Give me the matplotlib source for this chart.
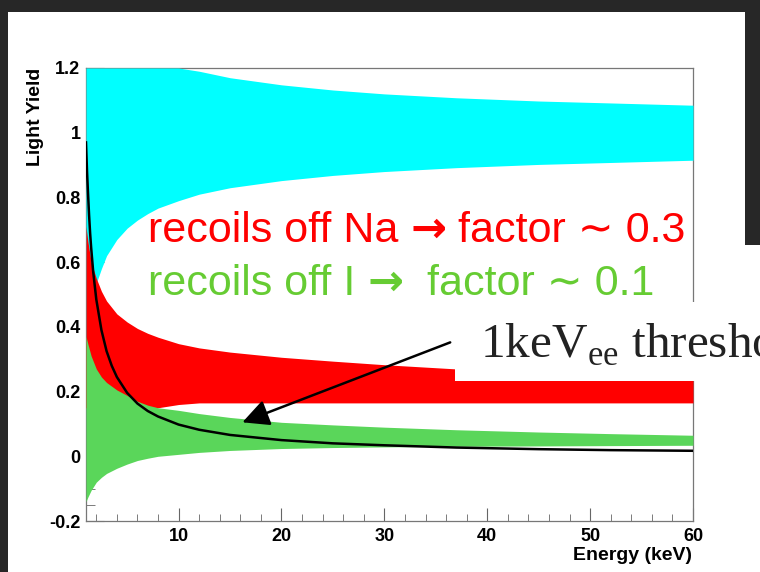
import matplotlib
matplotlib.use("Agg")
import matplotlib.pyplot as plt
from matplotlib.patches import Rectangle
from matplotlib.ticker import MultipleLocator

plt.rcParams["mathtext.fontset"] = "custom"
plt.rcParams["mathtext.rm"] = "Liberation Serif"

# energy grid (keV) shared by the three bands
energy = [1.0, 1.2, 1.5, 2.0, 2.5, 3.0, 4.0, 5.0, 6.0, 7.0, 8.0, 10.0,
          12.0, 15.0, 20.0, 25.0, 30.0, 37.0, 45.0, 52.0, 60.0]

# electron recoils (cyan band)
cyan_hi = [1.2, 1.2, 1.2, 1.2, 1.2, 1.2, 1.2, 1.2, 1.2, 1.2, 1.2, 1.2,
           1.19, 1.17, 1.148, 1.132, 1.12, 1.108, 1.098, 1.092, 1.085]
cyan_lo = [0.34, 0.40, 0.46, 0.535, 0.58, 0.62, 0.67, 0.705, 0.73, 0.75, 0.767, 0.79,
           0.81, 0.83, 0.852, 0.868, 0.88, 0.892, 0.902, 0.908, 0.915]

# Na recoils (red band)
red_hi = [0.71, 0.66, 0.60, 0.55, 0.51, 0.48, 0.44, 0.415, 0.395, 0.38, 0.368, 0.348,
          0.335, 0.322, 0.306, 0.294, 0.283, 0.27, 0.26, 0.252, 0.245]
red_lo = [0.15, 0.15, 0.15, 0.15, 0.15, 0.15, 0.15, 0.15, 0.15, 0.15, 0.15, 0.16,
          0.165, 0.165, 0.165, 0.165, 0.165, 0.165, 0.165, 0.165, 0.165]

# I recoils (green band)
green_hi = [0.37, 0.345, 0.31, 0.27, 0.245, 0.228, 0.205, 0.188, 0.17, 0.158, 0.15, 0.142,
            0.132, 0.12, 0.105, 0.097, 0.09, 0.082, 0.075, 0.07, 0.065]
green_lo = [-0.14, -0.125, -0.105, -0.08, -0.065, -0.053, -0.037, -0.024, -0.013, -0.006, 0.0, 0.006,
            0.012, 0.018, 0.024, 0.027, 0.029, 0.031, 0.032, 0.033, 0.034]

# 1 keVee threshold curve
line_energy = [1.0, 1.1, 1.2, 1.3, 1.4, 1.5, 1.7, 2.0, 2.5, 3.0, 3.5, 4.0, 5.0, 6.0, 7.0,
               8.0, 10.0, 12.0, 15.0, 20.0, 25.0, 30.0, 37.0, 45.0, 52.0, 60.0]
line_yield = [0.97, 0.88, 0.81, 0.745, 0.69, 0.645, 0.57, 0.485, 0.39, 0.325, 0.28, 0.245, 0.196,
              0.163, 0.14, 0.123, 0.098, 0.082, 0.066, 0.05, 0.04, 0.034, 0.027, 0.022, 0.019, 0.017]

x_ticks = [10, 20, 30, 40, 50, 60]
y_ticks = [-0.2, 0, 0.2, 0.4, 0.6, 0.8, 1.0, 1.2]
y_labels = ["-0.2", "0", "0.2", "0.4", "0.6", "0.8", "1", "1.2"]

na_text = ["recoils off Na ", "\u2192", " factor \u223c 0.3"]
i_text = ["recoils off I ", "\u2192", "  factor \u223c 0.1"]

W, H = 760, 572


def fx(x):
    return x / W


def fy(y):
    return 1 - y / H


fig = plt.figure(figsize=(W / 100, H / 100), dpi=100, facecolor="#272727")

# white slide area
fig.patches.append(Rectangle((fx(8), 0), fx(745) - fx(8), fy(12), transform=fig.transFigure,
                             facecolor="white", edgecolor="none", zorder=-2))
fig.patches.append(Rectangle((fx(745), 0), 1 - fx(745), fy(245), transform=fig.transFigure,
                             facecolor="white", edgecolor="none", zorder=-2))

ax = fig.add_axes([fx(86), fy(521), fx(693) - fx(86), (521 - 68) / H])

ax.fill_between(energy, cyan_lo, cyan_hi, color="#00ffff", lw=0, zorder=3)
ax.fill_between(energy, red_lo, red_hi, color="#ff0000", lw=0, zorder=3)
ax.fill_between(energy, green_lo, green_hi, color="#5ad65a", lw=0, zorder=3)
ax.plot(line_energy, line_yield, color="black", lw=1.8, zorder=4)

ax.set_xlim(1, 60)
ax.set_ylim(-0.2, 1.2)
ax.set_xticks(x_ticks)
ax.xaxis.set_minor_locator(MultipleLocator(2))
ax.set_yticks(y_ticks)
ax.set_yticklabels(y_labels)
ax.yaxis.set_minor_locator(MultipleLocator(0.05))
ax.tick_params(axis="x", which="major", direction="in", length=9.5, color="#666666", pad=5)
ax.tick_params(axis="x", which="minor", direction="in", length=5, color="#666666")
ax.tick_params(axis="y", which="major", direction="in", length=13, color="#666666", pad=4)
ax.tick_params(axis="y", which="minor", direction="in", length=6.5, color="#666666")
for lab in ax.get_xticklabels() + ax.get_yticklabels():
    lab.set_fontfamily("Liberation Sans")
    lab.set_fontweight("bold")
    lab.set_fontsize(13)
for sp in ax.spines.values():
    sp.set_color("#777777")
    sp.set_linewidth(0.9)

ax.annotate("", xy=(16.2, 0.105), xytext=(36.4, 0.352),
            arrowprops=dict(arrowstyle="-|>,head_length=0.9,head_width=0.45", color="black",
                            lw=1.8, shrinkA=0, shrinkB=0, mutation_scale=18),
            annotation_clip=False, zorder=7)

fig.text(fx(35), fy(68), "Light Yield", rotation=90, ha="center", va="top",
         family="Liberation Sans", fontweight="bold", fontsize=14)
fig.text(fx(692), fy(556), "Energy (keV)", ha="right", va="center",
         family="Liberation Sans", fontweight="bold", fontsize=14)

renderer = fig.canvas.get_renderer()


def chained_text(parts, x0, y0, color, size):
    # draw text pieces one after another on one baseline
    x = x0
    for i, part in enumerate(parts):
        if part == "\u2192":
            fam, wt = ["DejaVu Sans"], "bold"
        else:
            fam, wt = ["Liberation Sans", "DejaVu Sans"], "normal"
        t = fig.text(fx(x), fy(y0), part, color=color, fontsize=size, family=fam,
                     fontweight=wt, va="baseline", ha="left")
        bb = t.get_window_extent(renderer)
        x = x + bb.width


chained_text(na_text, 148, 242, "#ff0000", 31)
chained_text(i_text, 148, 295, "#66cc33", 31)

# white label box over the plot
fig.patches.append(Rectangle((fx(455), fy(381)), 1 - fx(455), (381 - 302) / H,
                             transform=fig.transFigure, facecolor="white",
                             edgecolor="none", zorder=5))
fig.text(fx(480), fy(358), r"1keV$_{\mathrm{ee}}$ threshold", family="Liberation Serif",
         fontsize=35.5, color="#222222", va="baseline", zorder=6)

fig.savefig("out.png", dpi=100, facecolor=fig.get_facecolor())
